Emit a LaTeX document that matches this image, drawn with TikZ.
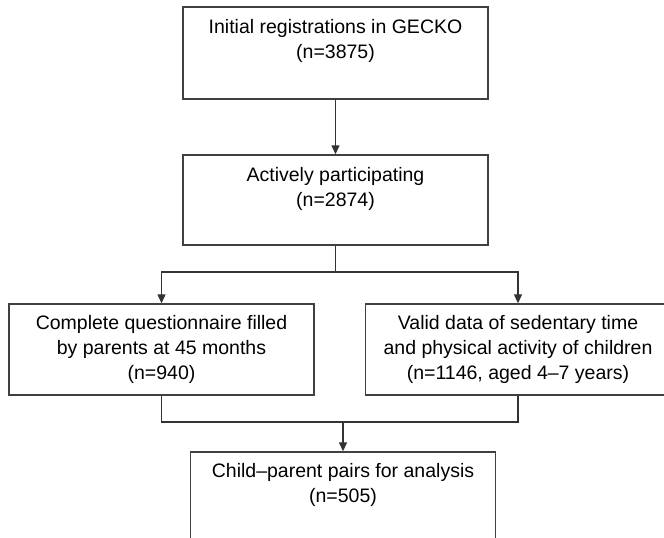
\documentclass[tikz,border=0pt]{standalone}
\usepackage{fontspec}
\setmainfont{Liberation Sans}
\usetikzlibrary{positioning,arrows.meta}

\tikzset{
	box/.style={draw=black!75, line width=1.4pt, minimum width=305pt, minimum height=92pt, inner sep=0pt},
	txt/.style={anchor=north, align=center, inner sep=0pt, font=\fontsize{19.5}{25}\selectfont},
	link/.style={draw=black!80, line width=1.3pt},
	arr/.style={link, -{Triangle[length=9pt,width=8pt]}}
}

\begin{document}
\begin{tikzpicture}[x=1pt, y=-1pt]
	\useasboundingbox (0,0) rectangle (664,538);
	\clip (0,0) rectangle (664,538);

	% boxes
	\node[box] (init) at (335.5, 53) {};
	\node[box, minimum height=90pt] (active) at (335.5, 200) {};
	\node[box, minimum height=91pt] (quest) at (161.5, 349.5) {};
	\node[box, minimum height=91pt] (valid) at (518, 349.5) {};
	\node[box] (pairs) at (343, 498) {};

	% texts
	\node[txt, below=13pt of init.north] (initText) {Initial registrations in GECKO\\(n=3875)};
	\node[txt, below=13pt of active.north] (activeText) {Actively participating\\(n=2874)};
	\node[txt, below=12pt of quest.north] (questText) {Complete questionnaire filled\\by parents at 45 months\\(n=940)};
	\node[txt, below=12pt of valid.north] (validText) {Valid data of sedentary time\\and physical activity of children\\(n=1146, aged 4--7 years)};
	\node[txt, below=12pt of pairs.north] (pairsText) {Child--parent pairs for analysis\\(n=505)};

	\coordinate (split) at (335.5, 272);
	\coordinate (merge) at (343, 422);

	% connectors
	\draw[arr] (init.south) -- (active.north);
	\draw[link] (active.south) -- (split);
	\draw[arr] (split) -| (quest.north);
	\draw[arr] (split) -| (valid.north);
	\draw[link] (quest.south) |- (merge) -| (valid.south);
	\draw[arr] (merge) -- (pairs.north);
\end{tikzpicture}
\end{document}
